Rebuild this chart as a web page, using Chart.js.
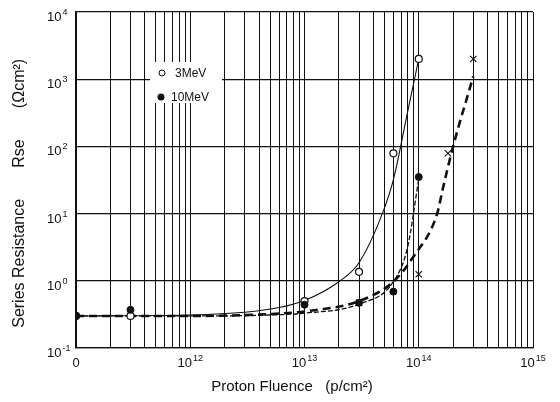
<!DOCTYPE html>
<html lang="en">
<head>
  <meta charset="UTF-8">
  <title>Series Resistance vs Proton Fluence</title>
  <script src="https://cdn.jsdelivr.net/npm/chart.js"></script>
  <style>
    body { margin: 0; background: #fff; }
  </style>
</head>
<body>
  <canvas id="rseChart" width="560" height="402"></canvas>
  <script>
    // Measured points: fluence (p/cm2) and Rse (ohm cm2). Fluence "0" sits on the 1e11 line.
    const fluence3MeV = [1e11, 3e11, 1e13, 3e13, 6e13, 1e14];
    const rse3MeV = [0.3, 0.3, 0.5, 1.36, 79, 2000];
    const fluence10MeV = [1e11, 3e11, 1e13, 3e13, 6e13, 1e14];
    const rse10MeV = [0.3, 0.37, 0.44, 0.47, 0.69, 35];
    const fluenceCross = [3e13, 1e14, 1.8e14, 3e14];
    const rseCross = [0.47, 1.25, 79, 2000];

    // Fitted curves
    const fitFluence3 = [1e11, 1e12, 3e12, 6e12, 1e13, 2e13, 3e13, 4.8e13, 6e13, 8e13, 1e14];
    const fitRse3 = [0.3, 0.31, 0.34, 0.4, 0.51, 0.97, 1.86, 10, 32, 330, 2000];
    const fitFluence10 = [1e11, 1e12, 5e12, 1e13, 3e13, 6e13, 8e13, 1e14];
    const fitRse10 = [0.3, 0.3, 0.31, 0.33, 0.45, 0.97, 3.2, 33];
    const fitFluenceCross = [1e11, 1e12, 5e12, 1e13, 3e13, 6e13, 9e13, 1.45e14, 1.62e14, 2e14, 3e14];
    const fitRseCross = [0.3, 0.3, 0.32, 0.35, 0.5, 0.97, 2.3, 10, 23, 100, 1100];

    // Axis ticks, labels written as base^exponent
    const xTicks = [1e11, 1e12, 1e13, 1e14, 1e15];
    const xTickLabels = ['0', '10^12', '10^13', '10^14', '10^15'];
    const yTicks = [0.1, 1, 10, 100, 1000, 10000];
    const yTickLabels = ['10^-1', '10^0', '10^1', '10^2', '10^3', '10^4'];

    const FONT = 'Liberation Sans, Arial, sans-serif';

    function points(xs, ys) {
      return xs.map((x, i) => ({ x: x, y: ys[i] }));
    }

    function curve(xs, ys, width, dash) {
      return {
        data: points(xs, ys),
        showLine: true,
        borderColor: '#111',
        borderWidth: width,
        borderDash: dash,
        pointRadius: 0,
        cubicInterpolationMode: 'monotone'
      };
    }

    // draw "10" with a raised exponent; align is 'center' or 'left'
    function powerLabel(c, text, x, baseline, align) {
      const [base, exp] = text.split('^');
      c.font = '13px ' + FONT;
      const wb = c.measureText(base).width;
      c.font = '9px ' + FONT;
      const we = exp ? c.measureText(exp).width + 1 : 0;
      const left = align === 'center' ? x - (wb + we) / 2 : x;
      c.font = '13px ' + FONT;
      c.fillText(base, left, baseline);
      if (exp) {
        c.font = '9px ' + FONT;
        c.fillText(exp, left + wb + 1, baseline - 6);
      }
    }

    const powerTicks = {
      id: 'powerTicks',
      afterDraw(chart) {
        const c = chart.ctx;
        const { x, y } = chart.scales;
        c.save();
        c.fillStyle = '#111';
        c.textAlign = 'left';
        c.textBaseline = 'alphabetic';
        xTicks.forEach((v, i) => {
          powerLabel(c, xTickLabels[i], x.getPixelForValue(v), 367, 'center');
        });
        yTicks.forEach((v, i) => {
          powerLabel(c, yTickLabels[i], 47, y.getPixelForValue(v) + 9, 'left');
        });
        c.restore();
      }
    };

    // small legend box in the upper left of the plot
    const boxLegend = {
      id: 'boxLegend',
      afterDraw(chart) {
        const c = chart.ctx;
        c.save();
        c.fillStyle = '#fff';
        c.fillRect(150, 62, 72, 41);
        c.strokeStyle = '#111';
        c.lineWidth = 1;
        c.beginPath();
        c.arc(162, 73, 3, 0, Math.PI * 2);
        c.fillStyle = '#fff';
        c.fill();
        c.stroke();
        c.beginPath();
        c.arc(161, 97, 3.5, 0, Math.PI * 2);
        c.fillStyle = '#111';
        c.fill();
        c.font = '12px ' + FONT;
        c.textBaseline = 'middle';
        c.fillText('3MeV', 175, 74);
        c.fillText('10MeV', 171, 98);
        c.restore();
      }
    };

    const ctx = document.getElementById('rseChart').getContext('2d');
    new Chart(ctx, {
      type: 'scatter',
      data: {
        datasets: [
          {
            label: '10MeV',
            data: points(fluence10MeV, rse10MeV),
            pointStyle: 'circle',
            pointRadius: 3.5,
            backgroundColor: '#111',
            borderColor: '#111',
            borderWidth: 1
          },
          {
            label: '3MeV',
            data: points(fluence3MeV, rse3MeV),
            pointStyle: 'circle',
            pointRadius: 3.5,
            backgroundColor: '#fff',
            borderColor: '#111',
            borderWidth: 1.2
          },
          {
            label: 'x',
            data: points(fluenceCross, rseCross),
            pointStyle: 'crossRot',
            pointRadius: 4.5,
            borderColor: '#111',
            borderWidth: 1.1
          },
          curve(fitFluence3, fitRse3, 1.1, []),
          curve(fitFluence10, fitRse10, 1.3, [5, 2]),
          curve(fitFluenceCross, fitRseCross, 2.6, [8, 5])
        ]
      },
      options: {
        responsive: false,
        animation: false,
        layout: { padding: { top: 12, right: 27, bottom: 0, left: 0 } },
        plugins: {
          legend: { display: false },
          tooltip: { enabled: false }
        },
        scales: {
          x: {
            type: 'logarithmic',
            min: 1e11,
            max: 1e15,
            afterBuildTicks: axis => {
              const ticks = [];
              for (let e = 11; e < 15; e++) {
                for (let m = 1; m < 10; m++) ticks.push({ value: m * Math.pow(10, e) });
              }
              ticks.push({ value: 1e15 });
              axis.ticks = ticks;
            },
            afterFit: axis => { axis.height = 54; },
            ticks: { display: false },
            grid: { color: '#111', lineWidth: 1, drawTicks: false },
            border: { color: '#111', width: 1.2 },
            title: {
              display: true,
              text: 'Proton Fluence   (p/cm²)      ',
              color: '#111',
              font: { family: FONT, size: 15 },
              padding: { top: 4, bottom: 6 }
            }
          },
          y: {
            type: 'logarithmic',
            min: 0.1,
            max: 10000,
            afterBuildTicks: axis => {
              axis.ticks = yTicks.map(v => ({ value: v }));
            },
            afterFit: axis => { axis.width = 76; },
            ticks: { display: false },
            grid: { color: '#111', lineWidth: 1.2, drawTicks: false },
            border: { color: '#111', width: 1.2 },
            title: {
              display: true,
              text: 'Series Resistance       Rse       (Ωcm²)      ',
              color: '#111',
              font: { family: FONT, size: 16 },
              padding: { top: 10, bottom: 0 }
            }
          }
        }
      },
      plugins: [boxLegend, powerTicks]
    });
  </script>
</body>
</html>
